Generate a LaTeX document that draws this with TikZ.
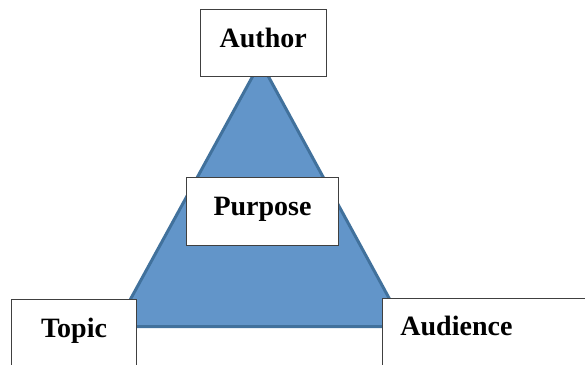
\documentclass[tikz,border=0pt]{standalone}
\usepackage{fontspec}
\setmainfont{Liberation Serif}
\definecolor{trifill}{RGB}{98,149,201}
\definecolor{triline}{RGB}{65,113,156}
\definecolor{boxline}{RGB}{64,64,64}
\tikzset{
    box/.style={draw=boxline, line width=0.9pt, fill=white, inner sep=0pt,
        text height=38.5pt, text depth=29pt,
        font=\bfseries\fontsize{28}{34}\selectfont},
}
\begin{document}
\begin{tikzpicture}[x=1pt, y=-1pt]
                \clip (0,0) rectangle (585,364);
                \coordinate (apex) at (260.5,62);
                \coordinate (left) at (115.5,326.5);
                \coordinate (right) at (404.5,326.5);
                \draw[fill=trifill, draw=triline, line width=3pt, line join=miter] (apex) -- (left) -- (right) -- cycle;
                
                \node[box, anchor=north, minimum width=125.5pt] (author) at (263.25,8.5) {Author};
                \node[box, anchor=north, minimum width=152pt] (purpose) at (262.5,177) {Purpose};
                
                \node[box, anchor=north, minimum width=125pt, text depth=60pt] (topic) at (74,298.5) {Topic};
                \node[box, anchor=north west, inner xsep=18.5pt, text width=200pt, align=left, text height=37.5pt, text depth=60pt] (audience) at (381.5,297.5) {Audience};
                
            \end{tikzpicture}
\end{document}
